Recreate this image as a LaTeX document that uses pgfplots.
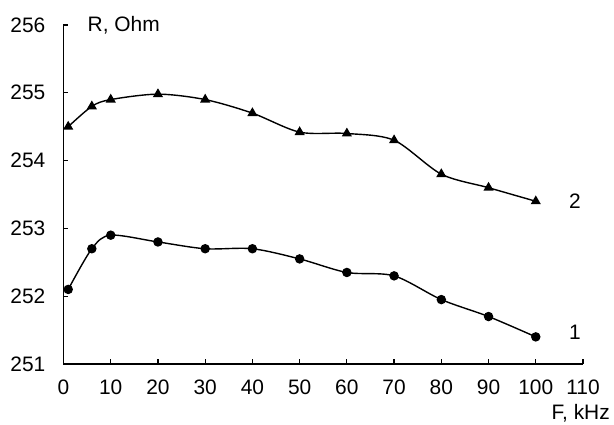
\documentclass[border=0pt]{standalone}
\usepackage{fontspec}
\setmainfont{Liberation Sans}
\usepackage{pgfplots}
\pgfplotsset{compat=1.18}
\begin{document}
\fontsize{21}{25}\selectfont
\begin{tikzpicture}
\begin{axis}[
  scale only axis,
  width=519.5bp, height=339bp,
  xmin=0, xmax=110, ymin=251, ymax=256,
  axis lines=left,
  axis line style={-, line width=1.2bp},
  xtick={0,10,...,110},
  ytick={251,252,...,256},
  tick align=inside,
  major tick length=5bp,
  tick style={line width=1.2bp, black},
  /pgf/number format/assume math mode=true,
  tick label style={font=\fontsize{21}{25}\selectfont},
  xticklabel style={yshift=-9bp},
  yticklabel style={xshift=-11bp},
  clip=false,
]
\addplot[black, line width=1.4bp, smooth, tension=0.5, mark=*, mark size=4bp, mark options={solid}]
coordinates {(1,252.1) (6,252.7) (10,252.9) (20,252.8) (30,252.7) (40,252.7) (50,252.55) (60,252.35) (70,252.3) (80,251.95) (90,251.7) (100,251.4)};
\addplot[black, line width=1.4bp, smooth, tension=0.5, mark=triangle*, mark size=4.5bp, mark options={solid}]
coordinates {(1,254.5) (6,254.8) (10,254.9) (20,254.98) (30,254.9) (40,254.7) (50,254.42) (60,254.4) (70,254.3) (80,253.8) (90,253.6) (100,253.4)};
\node[anchor=west, font=\fontsize{21}{25}\selectfont] at (rel axis cs:0,1) [xshift=17bp, yshift=0bp] {R, Ohm};
\node[anchor=north east, inner sep=0pt, font=\fontsize{21}{25}\selectfont] at (rel axis cs:1,0) [xshift=27bp, yshift=-40bp] {F, kHz};
\node[font=\fontsize{21}{25}\selectfont] at (axis cs:108.3,253.4) {2};
\node[font=\fontsize{21}{25}\selectfont] at (axis cs:108.3,251.47) {1};
\coordinate (ll) at (rel axis cs:0,0);
\coordinate (ur) at (rel axis cs:1,1);
\end{axis}
\pgfresetboundingbox
\path[use as bounding box] ([shift={(-63.5bp,-61bp)}]ll) rectangle ([shift={(31bp,25bp)}]ur);
\end{tikzpicture}
\end{document}
